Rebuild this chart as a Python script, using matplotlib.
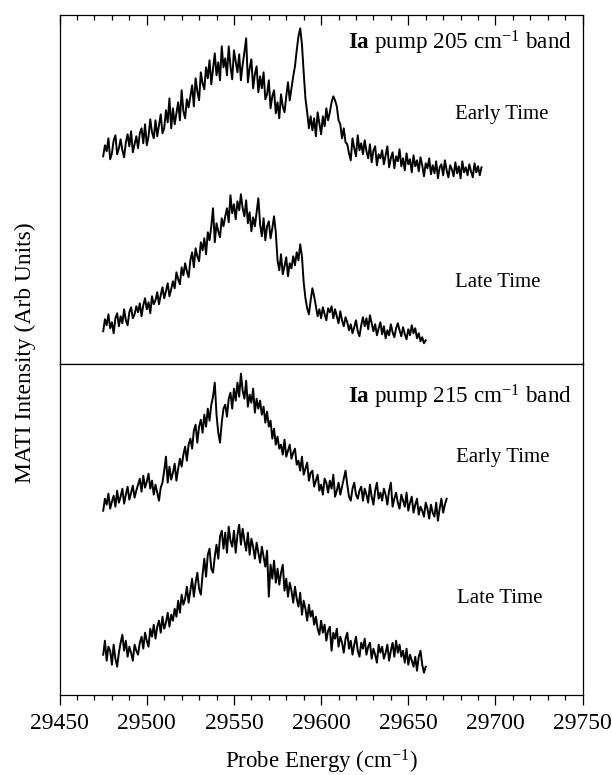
import numpy as np
import matplotlib
matplotlib.use('Agg')
import matplotlib.pyplot as plt
from matplotlib.ticker import MultipleLocator

plt.rcParams['font.family'] = ['Liberation Serif', 'DejaVu Serif']
plt.rcParams['mathtext.fontset'] = 'custom'
plt.rcParams['mathtext.rm'] = 'Liberation Serif'
plt.rcParams['mathtext.bf'] = 'Liberation Serif:bold'
plt.rcParams['mathtext.it'] = 'Liberation Serif:italic'

# first probe energy of each trace (cm^-1), sampled every 1 cm^-1
start_205_early = 29475
start_205_late = 29475
start_215_early = 29475
start_215_late = 29475

# MATI intensity (arb units, traces already offset as in the figure)
pump205_early = [
    208, 219, 213, 226, 205, 211, 224, 229, 210, 216,
    225, 214, 207, 222, 230, 218, 233, 212, 220, 228,
    216, 231, 236, 221, 240, 219, 228, 245, 232, 226,
    244, 228, 239, 250, 231, 236, 254, 242, 266, 236,
    256, 240, 251, 262, 244, 274, 253, 246, 265, 257,
    268, 279, 258, 286, 273, 264, 292, 281, 275, 297,
    286, 304, 280, 296, 311, 289, 302, 284, 318, 297,
    306, 289, 318, 298, 285, 314, 303, 292, 310, 284,
    300, 312, 326, 282, 296, 305, 276, 290, 298, 272,
    288, 276, 292, 265, 270, 284, 256, 268, 274, 251,
    262, 246, 270, 258, 252, 268, 282, 264, 276, 288,
    298, 314, 328, 336, 320, 292, 266, 252, 236, 248,
    234, 246, 228, 252, 241, 230, 248, 238, 256, 244,
    252, 262, 268, 264, 258, 244, 240, 226, 236, 222,
    220, 211, 204, 226, 216, 208, 229, 214, 221, 210,
    224, 213, 206, 220, 202, 214, 218, 199, 210, 206,
    214, 200, 209, 218, 197, 206, 212, 196, 208, 203,
    215, 198, 206, 194, 211, 200, 205, 192, 209, 198,
    204, 193, 207, 199, 188, 201, 196, 206, 190, 199,
    191, 203, 186, 197, 200, 189, 204, 194, 187, 199,
    195, 188, 202, 191, 198, 186, 203, 192, 197, 189,
    200, 193, 187, 201, 192, 198, 189, 197,
]
pump205_late = [
    33, 45, 39, 50, 36, 42, 31, 46, 51, 38,
    48, 41, 55, 44, 39, 52, 57, 46, 50, 58,
    52, 61, 48, 59, 66, 55, 62, 51, 68, 60,
    64, 72, 60, 69, 77, 66, 73, 81, 68, 75,
    83, 76, 92, 85, 80, 97, 89, 101, 93, 87,
    104, 112, 97, 116, 108, 103, 122, 114, 126, 110,
    132, 124, 138, 156, 122, 141, 133, 127, 146, 138,
    148, 156, 142, 169, 151, 160, 145, 163, 154, 170,
    156, 148, 164, 141, 152, 133, 147, 138, 152, 166,
    140, 128, 146, 124, 138, 143, 126, 136, 148, 132,
    104, 94, 110, 90, 98, 107, 88, 101, 96, 108,
    99, 112, 104, 120, 108, 82, 66, 56, 50, 64,
    76, 68, 58, 48, 55, 46, 57, 50, 44, 56,
    52, 58, 46, 55, 48, 41, 53, 44, 38, 47,
    42, 34, 40, 31, 37, 44, 33, 28, 39, 47,
    38, 46, 35, 49, 41, 33, 40, 29, 36, 42,
    30, 38, 26, 34, 29, 40, 32, 27, 36, 41,
    34, 28, 37, 30, 25, 35, 29, 39, 31, 36,
    26, 31, 23, 27, 21, 24,
]
pump215_early = [
    184, 196, 190, 201, 186, 193, 199, 188, 204, 192,
    198, 206, 191, 200, 208, 195, 202, 209, 197, 204,
    210, 216, 203, 219, 207, 213, 221, 206, 214, 200,
    210, 202, 194, 207, 212, 224, 238, 212, 228, 215,
    222, 231, 214, 226, 236, 228, 240, 248, 234, 250,
    256, 246, 264, 270, 252, 268, 275, 262, 280, 268,
    286, 274, 290, 298, 312, 280, 262, 252, 272, 286,
    290, 278, 296, 302, 286, 306, 294, 312, 298, 321,
    304, 296, 314, 288, 300, 292, 306, 282, 296, 286,
    294, 280, 288, 272, 283, 268, 274, 256, 266, 250,
    258, 246, 250, 240, 255, 238, 244, 250, 236, 242,
    246, 230, 234, 224, 238, 220, 226, 232, 214, 222,
    224, 208, 214, 220, 204, 210, 200, 216, 212, 202,
    214, 206, 220, 198, 204, 212, 200, 208, 216, 224,
    210, 198, 194, 206, 212, 200, 196, 204, 208, 194,
    206, 200, 192, 210, 198, 190, 204, 212, 196, 202,
    194, 206, 200, 190, 204, 212, 188, 196, 202, 192,
    186, 200, 194, 188, 202, 184, 192, 198, 182, 190,
    196, 180, 188, 184, 178, 192, 186, 176, 190, 182,
    178, 192, 174, 186, 196, 182, 190, 196,
]
pump215_late = [
    40, 54, 34, 48, 44, 30, 50, 36, 28, 42,
    52, 60, 44, 54, 38, 48, 42, 34, 50, 44,
    40, 52, 58, 46, 62, 54, 48, 66, 58, 70,
    56, 68, 74, 62, 78, 66, 72, 82, 68, 80,
    74, 86, 78, 94, 82, 100, 90, 96, 108, 92,
    104, 116, 98, 112, 122, 106, 100, 120, 136, 118,
    140, 146, 126, 122, 138, 150, 136, 158, 164, 146,
    162, 142, 168, 154, 148, 164, 142, 160, 170, 150,
    166, 154, 144, 162, 140, 156, 148, 136, 152, 142,
    132, 148, 138, 128, 144, 98, 130, 116, 134, 112,
    126, 110, 122, 130, 104, 116, 98, 112, 104, 92,
    108, 96, 88, 102, 80, 94, 86, 74, 90, 78,
    84, 70, 78, 66, 60, 74, 62, 70, 54, 64,
    68, 44, 62, 56, 66, 48, 58, 52, 42, 56,
    62, 46, 54, 40, 50, 58, 44, 38, 52, 46,
    56, 40, 48, 52, 36, 46, 40, 32, 50, 42,
    48, 36, 42, 50, 34, 44, 52, 38, 54, 42,
    50, 38, 44, 32, 46, 30, 40, 34, 28, 38,
    24, 38, 44, 30, 22, 28,
]


def energies(start, values):
    return start + np.arange(len(values))


fig = plt.figure(figsize=(6.12, 7.75), dpi=100)
ax1 = fig.add_axes([0.0974, 0.530, 0.8546, 0.4506])
ax2 = fig.add_axes([0.0974, 0.1036, 0.8546, 0.4264], sharex=ax1)

lw = 1.4
ax1.plot(energies(start_205_early, pump205_early), pump205_early, color='black', lw=lw)
ax1.plot(energies(start_205_late, pump205_late), pump205_late, color='black', lw=lw)
ax2.plot(energies(start_215_early, pump215_early), pump215_early, color='black', lw=lw)
ax2.plot(energies(start_215_late, pump215_late), pump215_late, color='black', lw=lw)

ax1.set_xlim(29450, 29750)
ax1.set_ylim(0, 349.3)
ax2.set_ylim(0, 330.4)

for ax in (ax1, ax2):
    ax.set_yticks([])
    for s in ax.spines.values():
        s.set_linewidth(0.9)
    ax.xaxis.set_major_locator(MultipleLocator(50))
    ax.xaxis.set_minor_locator(MultipleLocator(10))

# top panel: ticks on top edge pointing in
ax1.tick_params(axis='x', which='both', bottom=False, top=True, direction='in',
                labelbottom=False, labeltop=False, width=0.9)
ax1.tick_params(axis='x', which='major', length=7)
ax1.tick_params(axis='x', which='minor', length=3.5)
# bottom panel: ticks on bottom edge pointing out
ax2.tick_params(axis='x', which='both', bottom=True, top=False, direction='out',
                labelsize=17, width=0.9, pad=6)
ax2.tick_params(axis='x', which='major', length=7)
ax2.tick_params(axis='x', which='minor', length=3.5)
ax2.xaxis.set_major_formatter(plt.FuncFormatter(lambda v, p: f'{int(v)}'))

band_size = 16.7
time_size = 15
ax1.text(0.979, 0.92, r'$\mathbf{Ia}$ pump 205 cm$^{-1}$ band', transform=ax1.transAxes,
         ha='right', va='center', fontsize=band_size)
ax1.text(0.845, 0.715, 'Early Time', transform=ax1.transAxes, ha='center', va='center', fontsize=time_size)
ax1.text(0.838, 0.235, 'Late Time', transform=ax1.transAxes, ha='center', va='center', fontsize=time_size)
ax2.text(0.979, 0.9, r'$\mathbf{Ia}$ pump 215 cm$^{-1}$ band', transform=ax2.transAxes,
         ha='right', va='center', fontsize=band_size)
ax2.text(0.848, 0.719, 'Early Time', transform=ax2.transAxes, ha='center', va='center', fontsize=time_size)
ax2.text(0.841, 0.292, 'Late Time', transform=ax2.transAxes, ha='center', va='center', fontsize=time_size)

ax2.set_xlabel('Probe Energy (cm$^{-1}$)', fontsize=16.5, labelpad=10)
fig.text(0.041, 0.545, 'MATI Intensity (Arb Units)', rotation=90, ha='center', va='center', fontsize=16.9)

fig.savefig('out.png', dpi=100)
